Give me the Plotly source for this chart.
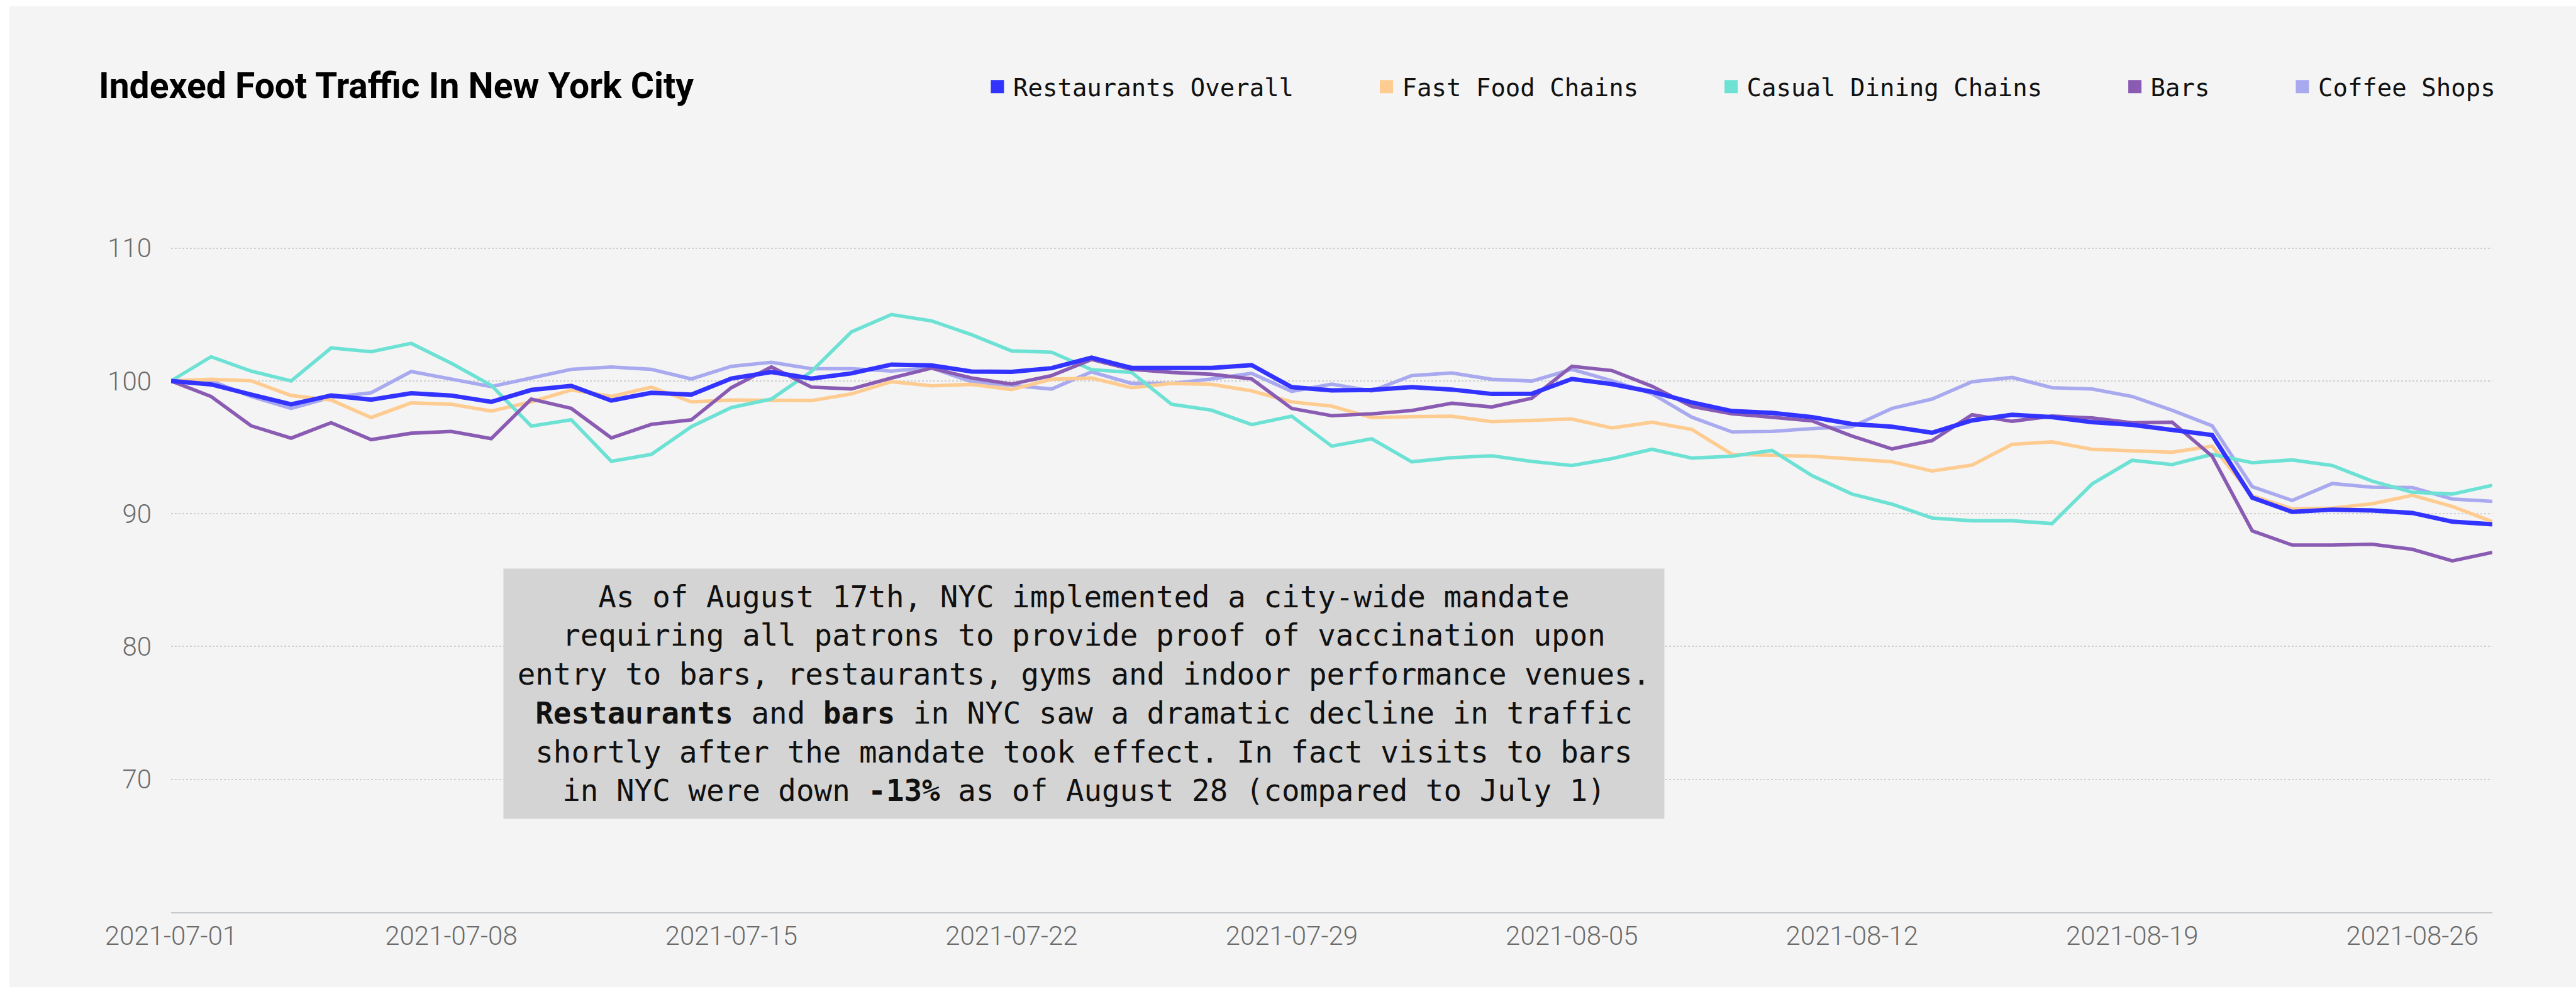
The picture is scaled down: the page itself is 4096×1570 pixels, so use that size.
import pandas as pd
import plotly.graph_objects as go

dates = pd.date_range("2021-07-01", "2021-08-28", freq="D").strftime("%Y-%m-%d").tolist()

restaurants_overall = [100, 99.74, 98.97, 98.24, 98.9, 98.59, 99.07, 98.9, 98.42, 99.32,
                       99.63, 98.52, 99.11, 98.97, 100.18, 100.67, 100.18, 100.57, 101.23, 101.17,
                       100.71, 100.68, 100.96, 101.75, 100.98, 101.01, 100.98, 101.19, 99.53, 99.29,
                       99.32, 99.53, 99.35, 99.02, 99.04, 100.15, 99.76, 99.18, 98.38, 97.73,
                       97.59, 97.27, 96.75, 96.55, 96.1, 97.03, 97.45, 97.27, 96.89, 96.69,
                       96.27, 95.92, 91.21, 90.14, 90.31, 90.24, 90.06, 89.4, 89.2]
fast_food = [100, 100.12, 100.01, 98.9, 98.56, 97.24, 98.35, 98.24, 97.73, 98.42,
             99.32, 98.83, 99.53, 98.42, 98.56, 98.53, 98.52, 99.02, 99.94, 99.63,
             99.74, 99.35, 100.12, 100.22, 99.49, 99.81, 99.74, 99.25, 98.42, 98.1,
             97.24, 97.31, 97.34, 96.93, 97.03, 97.13, 96.46, 96.89, 96.34, 94.47,
             94.4, 94.33, 94.12, 93.91, 93.22, 93.66, 95.23, 95.41, 94.85, 94.72,
             94.63, 95.09, 91.35, 90.37, 90.42, 90.75, 91.39, 90.55, 89.4]
casual_dining = [100, 101.82, 100.74, 100.0, 102.48, 102.2, 102.83, 101.33, 99.67, 96.6,
                 97.07, 93.95, 94.47, 96.55, 98.0, 98.63, 100.71, 103.69, 105.0, 104.52,
                 103.48, 102.26, 102.16, 100.85, 100.64, 98.24, 97.79, 96.71, 97.35, 95.09,
                 95.64, 93.91, 94.22, 94.36, 93.94, 93.63, 94.15, 94.85, 94.19, 94.33,
                 94.77, 92.87, 91.48, 90.72, 89.68, 89.47, 89.47, 89.26, 92.25, 94.02,
                 93.7, 94.47, 93.84, 94.05, 93.63, 92.45, 91.62, 91.48, 92.14]
bars = [100, 98.83, 96.62, 95.69, 96.85, 95.58, 96.06, 96.2, 95.65, 98.63,
        97.93, 95.71, 96.73, 97.07, 99.49, 101.05, 99.53, 99.4, 100.22, 100.96,
        100.22, 99.76, 100.4, 101.61, 100.87, 100.64, 100.5, 100.15, 97.93, 97.38,
        97.52, 97.77, 98.32, 98.04, 98.7, 101.1, 100.78, 99.6, 98.07, 97.52,
        97.27, 96.99, 95.85, 94.88, 95.51, 97.45, 96.96, 97.35, 97.21, 96.85,
        96.89, 94.33, 88.71, 87.64, 87.64, 87.7, 87.32, 86.45, 87.09]
coffee_shops = [100, 100.0, 98.83, 97.93, 98.77, 99.11, 100.71, 100.15, 99.57, 100.22,
                100.87, 101.05, 100.87, 100.15, 101.1, 101.4, 100.92, 100.92, 100.74, 100.98,
                99.94, 99.67, 99.39, 100.68, 99.81, 99.81, 100.15, 100.57, 99.21, 99.76,
                99.25, 100.4, 100.6, 100.12, 99.99, 100.87, 100.01, 99.04, 97.27, 96.16,
                96.2, 96.41, 96.55, 97.93, 98.63, 99.94, 100.26, 99.49, 99.39, 98.83,
                97.79, 96.62, 92.04, 91.0, 92.27, 92.0, 91.97, 91.11, 90.93]

series_names = ["Restaurants Overall", "Fast Food Chains", "Casual Dining Chains", "Bars", "Coffee Shops"]
y_ticks = [70, 80, 90, 100, 110]
x_ticks = ["2021-07-01", "2021-07-08", "2021-07-15", "2021-07-22", "2021-07-29",
           "2021-08-05", "2021-08-12", "2021-08-19", "2021-08-26"]

colors = {
    "Restaurants Overall": "#3333ff",
    "Fast Food Chains": "#fecc90",
    "Casual Dining Chains": "#6de2d4",
    "Bars": "#8a5bb3",
    "Coffee Shops": "#a8a9ef",
}
values = {
    "Restaurants Overall": restaurants_overall,
    "Fast Food Chains": fast_food,
    "Casual Dining Chains": casual_dining,
    "Bars": bars,
    "Coffee Shops": coffee_shops,
}
widths = {"Restaurants Overall": 7}

W, H = 4096, 1570
L, R, T, B = 272, 133, 289, 119
pw, ph = W - L - R, H - T - B

fig = go.Figure()

draw_order = ["Coffee Shops", "Fast Food Chains", "Casual Dining Chains", "Bars", "Restaurants Overall"]
for name in draw_order:
    fig.add_trace(go.Scatter(
        x=dates, y=values[name], mode="lines", name=name, showlegend=False,
        line=dict(color=colors[name], width=widths.get(name, 5.6)),
        hoverinfo="x+y+name",
    ))

NB = "\u00a0" * 5
for i, name in enumerate(series_names):
    label = name if i == len(series_names) - 1 else name + NB
    fig.add_trace(go.Scatter(
        x=[None], y=[None], mode="markers", name=label, showlegend=True,
        marker=dict(symbol="square", size=16, color=colors[name],
                    line=dict(color=colors[name], width=5)),
        legendrank=i + 1,
    ))

# grey panel (page background with a thin white border at top/left)
fig.add_shape(type="rect", xref="paper", yref="paper", layer="below",
              x0=(15 - L) / pw, x1=(W - L) / pw, y0=-(B + 5) / ph, y1=(H - B - 10) / ph,
              fillcolor="#f4f4f4", line=dict(width=0))

annotation_text = (
    "As of August 17th, NYC implemented a city-wide mandate<br>"
    "requiring all patrons to provide proof of vaccination upon<br>"
    "entry to bars, restaurants, gyms and indoor performance venues.<br>"
    "<b>Restaurants</b> and <b>bars</b> in NYC saw a dramatic decline in traffic<br>"
    "shortly after the mandate took effect. In fact visits to bars<br>"
    "in NYC were down <b>-13%</b> as of August 28 (compared to July 1)"
)
fig.add_annotation(
    xref="paper", yref="paper",
    x=(1723.5 - L) / pw, y=(H - B - 1103.5) / ph,
    xanchor="center", yanchor="middle",
    text=annotation_text, showarrow=False, align="center",
    font=dict(family="DejaVu Sans Mono", size=47.5, color="#111111"),
    bgcolor="#d4d4d4", borderpad=0, width=1845, height=397,
)

fig.update_layout(
    width=W, height=H,
    margin=dict(l=L, r=R, t=T, b=B, autoexpand=False),
    paper_bgcolor="#ffffff",
    plot_bgcolor="rgba(0,0,0,0)",
    title=dict(
        text="<b>Indexed Foot Traffic In New York City</b>",
        x=157 / W, xanchor="left", xref="container",
        y=1 - 136 / H, yanchor="middle", yref="container",
        font=dict(family="Roboto", size=57, color="#000000"),
    ),
    legend=dict(
        orientation="h", x=1.0027, xanchor="right", y=(H - B - 138) / ph, yanchor="middle",
        font=dict(family="DejaVu Sans Mono", size=39, color="#111111"),
        bgcolor="rgba(0,0,0,0)", itemwidth=40, traceorder="normal",
    ),
    xaxis=dict(
        type="date", range=[dates[0], dates[-1]],
        tickvals=x_ticks, ticktext=x_ticks,
        showgrid=False, zeroline=False,
        showline=True, linecolor="#c6cacd", linewidth=2,
        ticks="", ticklabelstandoff=0,
        tickfont=dict(family="Roboto", size=42, color="#6b6b6b", weight=300),
    ),
    yaxis=dict(
        range=[60, 115], tickvals=y_ticks,
        showgrid=True, gridcolor="#cfcfcf", gridwidth=2, griddash="dot",
        zeroline=False, showline=False, ticks="", ticklabelstandoff=30,
        tickfont=dict(family="Roboto", size=42, color="#6b6b6b", weight=300),
    ),
    showlegend=True,
)

fig.write_html("out.html")
